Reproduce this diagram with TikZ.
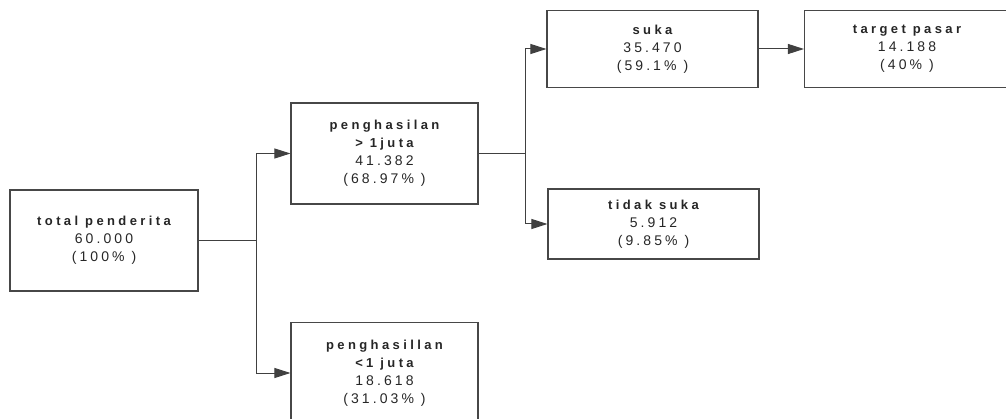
\documentclass[tikz,border=0pt]{standalone}
\usepackage{fontspec}
\setmainfont{Liberation Sans}
\newfontfamily\hdfont[LetterSpace=26]{Liberation Sans}
\newfontfamily\nmfont[LetterSpace=22]{Liberation Sans}
\usetikzlibrary{arrows.meta}
\newcommand{\hdl}[1]{{\hdfont\fontsize{13}{18}\selectfont\bfseries #1}}
\begin{document}
\begin{tikzpicture}[x=1pt,y=-1pt,
  box/.style={draw=black!72, line width=1.1pt, rectangle, inner sep=0pt, align=center,
    text=black!85, font=\nmfont\fontsize{14}{18}\selectfont},
  conn/.style={draw=black!75, line width=1pt},
  arr/.style={conn, -{Triangle[length=16pt,width=10pt]}}]
\useasboundingbox (0,0) rectangle (1006,419);
\clip (0,0) rectangle (1006,419);
\node[box, minimum width=188pt, minimum height=101pt] (total) at (104,240.5)
  {\hdl{total penderita}\\60.000\\(100\% )};
\node[box, minimum width=187pt, minimum height=101pt] (pA) at (384.5,153.5)
  {\hdl{penghasilan}\\\hdl{> 1juta}\\41.382\\(68.97\% )};
\node[box, minimum width=187pt, minimum height=101pt] (pB) at (384.5,373)
  {\hdl{penghasillan}\\\hdl{<1 juta}\\18.618\\(31.03\% )};
\node[box, minimum width=211pt, minimum height=77pt] (suka) at (652.5,49)
  {\hdl{suka}\\35.470\\(59.1\% )};
\node[box, minimum width=205pt, minimum height=77pt] (target) at (907,49)
  {\hdl{target pasar}\\14.188\\(40\% )};
\node[box, minimum width=211pt, minimum height=70pt] (tidak) at (653.5,224)
  {\hdl{tidak suka}\\5.912\\(9.85\% )};
\path (total.east) -- ++(58,0) coordinate (j1);
\path (pA.east) -- ++(47,0) coordinate (j2);
\draw[conn] (total.east) -- (j1);
\draw[arr] (j1) |- (pA.west);
\draw[arr] (j1) |- (pB.west);
\draw[conn] (pA.east) -- (j2);
\draw[arr] (j2) |- (suka.west);
\draw[arr] (j2) |- (tidak.west);
\draw[arr] (suka.east) -- (target.west);
\end{tikzpicture}
\end{document}
